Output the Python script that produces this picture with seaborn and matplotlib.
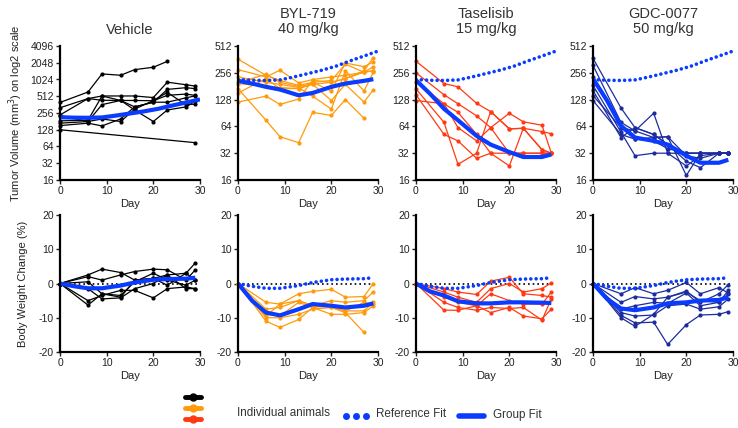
import matplotlib as mpl
mpl.use("Agg")
import matplotlib.pyplot as plt
from matplotlib.ticker import FixedLocator, FuncFormatter, NullLocator
import seaborn as sns
import pandas as pd
import numpy as np

# measurement days
days = [0, 6, 9, 13, 16, 20, 23, 27, 29]
nan = np.nan

# tumor volume (mm3), one list per animal
veh_tumor = [
    [396, 610, 1290, 1220, 1540, 1700, 2170, nan, nan],
    [318, 465, 518, 518, 518, 485, 917, 824, 780],
    [236, 465, 434, 430, 430, 425, 533, 560, 530],
    [185, 190, 518, 430, 330, 400, 680, 730, 700],
    [168, 180, 362, 430, 290, 180, 290, 330, 420],
    [152, 168, 150, 200, 330, 400, 400, 480, 520],
    [230, 180, 200, 180, 300, 430, 600, 360, 370],
    [128, nan, nan, nan, nan, nan, nan, nan, 75],
]
byl_tumor = [
    [364, 240, 210, 185, 200, 160, 330, 300, 340],
    [278, 230, 274, 197, 215, 230, 240, 260, 270],
    [170, 75, 49, 42, 92, 85, 128, 79, nan],
    [120, 140, 113, 130, 211, 200, 220, 270, 380],
    [230, 200, 190, 175, 140, 100, 270, 160, 260],
    [200, 245, 200, 180, 190, 125, 190, 120, 165],
    [152, 220, 170, 170, 200, 210, 320, 260, 300],
    [194, 180, 175, 170, 190, 200, 220, 260, 270],
]
tas_tumor = [
    [345, 194, 178, 116, 94, 60, 61, 56, 53],
    [256, 145, 115, 84, 62, 90, 72, 66, 32],
    [203, 115, 92, 52, 32, 32, 32, 32, 32],
    [169, 71, 24, 32, 94, 60, 61, 35, 32],
    [145, 52, 44, 28, 32, 23, 61, 35, 32],
    [125, 115, 62, 44, 62, 32, 32, 32, 32],
]
gdc_tumor = [
    [372, 103, 62, 52, 40, 32, 32, 32, 32],
    [311, 71, 57, 90, 32, 23, 30, 32, 32],
    [229, 62, 46, 48, 49, 18, 32, 32, 32],
    [185, 55, 30, 32, 32, 32, 32, 32, 32],
    [162, 48, 62, 52, 40, 26, 22, 32, 32],
    [142, 62, 57, 48, 49, 30, 28, 32, 32],
    [125, 52, 46, 44, 36, 32, 32, 32, 32],
]

# body weight change (%)
veh_weight = [
    [0, 2.5, 4.2, 3.2, 1.0, 1.5, 2.5, 3.0, 6.0],
    [0, 2.0, 1.0, 2.5, 3.5, 4.2, 4.0, 1.0, 4.0],
    [0, 0.5, -3.0, -3.5, 0.5, 3.0, 1.0, -0.5, 1.0],
    [0, -1.5, -4.5, -4.2, -1.5, 0.0, 2.5, -1.5, -1.5],
    [0, -5.0, -3.5, -2.0, -2.0, -4.2, -1.5, -1.0, -1.5],
    [0, -6.3, -3.0, -4.0, 1.0, 1.5, -0.5, 3.0, 1.0],
]
byl_weight = [
    [0, -5.5, -6.0, -3.0, -2.3, -1.7, -4.0, -3.8, 0.0],
    [0, -7.5, -7.0, -5.0, -6.5, -5.0, -5.5, -5.0, -2.5],
    [0, -9.0, -9.5, -5.5, -7.0, -6.5, -8.0, -8.0, -5.5],
    [0, -10.0, -10.0, -9.0, -7.5, -7.0, -8.5, -14.3, nan],
    [0, -11.0, -12.8, -10.5, -7.0, -9.0, -9.0, -8.5, -6.5],
    [0, -9.5, -6.0, -5.0, -6.5, -7.0, -8.0, -5.5, -6.0],
]
tas_weight = [
    [0, -1.5, -2.5, -3.2, 0.7, 1.8, -3.0, -3.5, -4.0],
    [0, -2.5, -4.0, -5.5, -1.5, 0.0, -2.5, -1.5, 0.2],
    [0, -4.0, -5.5, -6.5, -3.0, -5.0, -6.0, -6.0, -2.5],
    [0, -5.5, -7.0, -7.8, -7.0, -7.3, -7.0, -10.7, -4.5],
    [0, -7.8, -7.8, -6.5, -8.5, -7.0, -9.5, -10.3, -7.5],
]
gdc_weight = [
    [0, -3.0, -1.2, -3.0, -2.0, 0.3, -3.0, -1.2, -2.8],
    [0, -5.5, -3.8, -4.5, -4.0, -2.2, -5.5, -3.0, -0.3],
    [0, -7.5, -6.5, -5.5, -5.8, -2.8, -6.5, -5.5, -2.0],
    [0, -8.5, -9.5, -9.2, -6.5, -6.0, -7.5, -6.8, -4.5],
    [0, -9.3, -11.5, -11.3, -17.8, -12.0, -9.2, -9.0, -8.2],
    [0, -10.0, -12.5, -9.0, -4.0, -2.5, -5.0, -5.5, -3.0],
]

# fitted curves
ref_days = [0, 3, 6, 9, 12, 15, 18, 21, 24, 27, 30]
ref_tumor = [215, 211, 210, 213, 230, 251, 274, 304, 348, 395, 449]
fit_days = [0, 3, 6, 9, 13, 16, 20, 23, 27, 29]
byl_fit = [208, 194, 178, 166, 143, 152, 178, 194, 208, 217]
tas_fit = [211, 149, 101, 75, 50, 40, 33, 29, 29, 31]
gdc_fit = [220, 125, 65, 48, 44, 40, 30, 25, 25, 27]
ref_weight = [0, -0.8, -1.4, -1.4, -0.6, 0.3, 1.1, 1.3, 1.4, 1.7]
byl_wfit = [0, -5.0, -8.5, -9.3, -7.5, -6.0, -6.5, -7.0, -6.5, -5.8]
tas_wfit = [0, -2.3, -3.5, -5.2, -5.8, -5.8, -5.5, -5.5, -5.6, -5.7]
gdc_wfit = [0, -4.5, -7.3, -7.8, -7.0, -5.8, -5.5, -5.0, -4.8, -4.0]

groups = ["Vehicle", "BYL-719\n40 mg/kg", "Taselisib\n15 mg/kg", "GDC-0077\n50 mg/kg"]
colors = ["black", "#FF9A0A", "#FF3A12", "#1C2C9E"]
fit_blue = "#0A3CFF"


def long_df(animals):
    rows = []
    for i, vals in enumerate(animals):
        for d, v in zip(days, vals):
            rows.append({"animal": i, "day": d, "val": v})
    return pd.DataFrame(rows).dropna()


sns.set_style("ticks")
plt.rcParams["font.family"] = ["Liberation Sans", "DejaVu Sans"]
plt.rcParams["axes.unicode_minus"] = False

fig = plt.figure(figsize=(7.38, 4.28), dpi=100)
W, H = 738.0, 428.0
lefts = [60, 238, 416, 593]
width = 140
dotted = (0, (0.01, 1.45))


def make_ax(left, top, bottom):
    return fig.add_axes([left / W, 1 - bottom / H, width / W, (bottom - top) / H])


def style_ax(ax):
    sns.despine(ax=ax)
    for s in ["left", "bottom"]:
        ax.spines[s].set_linewidth(1.6)
        ax.spines[s].set_color("black")
    ax.tick_params(labelsize=7.5, length=3, width=1, pad=1.5, colors="#222222")
    ax.set_xlim(0, 30)
    ax.set_xticks([0, 10, 20, 30])
    ax.set_xlabel("Day", fontsize=8, labelpad=2, color="#222222")
    ax.set_ylabel("")


tumors = [veh_tumor, byl_tumor, tas_tumor, gdc_tumor]
tfits = [ref_tumor, byl_fit, tas_fit, gdc_fit]
weights = [veh_weight, byl_weight, tas_weight, gdc_weight]
wfits = [ref_weight, byl_wfit, tas_wfit, gdc_wfit]

for k in range(4):
    # tumor volume row
    ax = make_ax(lefts[k], 46, 180)
    sns.lineplot(data=long_df(tumors[k]), x="day", y="val", units="animal",
                 estimator=None, color=colors[k], marker="o", markersize=3,
                 markeredgewidth=0, linewidth=0.9, ax=ax, legend=False, clip_on=False)
    if k == 0:
        ax.plot(ref_days, ref_tumor, color=fit_blue, lw=3, solid_capstyle="butt")
    else:
        ax.plot(ref_days, ref_tumor, color=fit_blue, lw=2.6,
                linestyle=dotted, dash_capstyle="round")
        ax.plot(fit_days, tfits[k], color=fit_blue, lw=3, solid_capstyle="butt")
    ax.set_yscale("log", base=2)
    top = 4096 if k == 0 else 512
    ticks = [2 ** p for p in range(4, int(np.log2(top)) + 1)]
    ax.set_ylim(16, top)
    ax.yaxis.set_major_locator(FixedLocator(ticks))
    ax.yaxis.set_minor_locator(NullLocator())
    ax.yaxis.set_major_formatter(FuncFormatter(lambda v, p: f"{int(round(v))}"))
    style_ax(ax)
    ax.set_title(groups[k], fontsize=10.5, pad=9, color="#333333", linespacing=1.15)
    if k == 0:
        ax.set_ylabel("Tumor Volume (mm$^3$) on log2 scale", fontsize=8, color="#222222")

    # body weight row
    ax2 = make_ax(lefts[k], 215, 352)
    ax2.axhline(0, color="black", lw=1.2, linestyle=(0, (1, 1.8)))
    sns.lineplot(data=long_df(weights[k]), x="day", y="val", units="animal",
                 estimator=None, color=colors[k], marker="o", markersize=3,
                 markeredgewidth=0, linewidth=0.9, ax=ax2, legend=False, clip_on=False)
    if k == 0:
        ax2.plot(fit_days, ref_weight, color=fit_blue, lw=3, solid_capstyle="butt")
    else:
        ax2.plot(fit_days, ref_weight, color=fit_blue, lw=2.6,
                 linestyle=dotted, dash_capstyle="round")
        ax2.plot(fit_days, wfits[k], color=fit_blue, lw=3, solid_capstyle="butt")
    ax2.set_ylim(-20, 20)
    ax2.set_yticks([-20, -10, 0, 10, 20])
    style_ax(ax2)
    if k == 0:
        ax2.set_ylabel("Body Weight Change (%)", fontsize=8, color="#222222", labelpad=8)

# legend drawn in pixel coordinates of the figure
lg = fig.add_axes([0, 0, 1, 1], facecolor="none")
lg.set_xlim(0, W)
lg.set_ylim(H, 0)
lg.axis("off")
for yy, c in zip([397, 408, 419], colors[:3]):
    lg.plot([185, 201], [yy, yy], color=c, lw=3.5, solid_capstyle="round")
    lg.plot([193], [yy], marker="o", color=c, markersize=5)
lg.text(237, 413, "Individual animals", fontsize=8.4, va="center", color="#333333")
lg.plot([346, 356, 366], [416, 416, 416], "o", color=fit_blue, markersize=4)
lg.text(376, 414, "Reference Fit", fontsize=8.4, va="center", color="#333333")
lg.plot([459, 484], [416, 416], color=fit_blue, lw=4, solid_capstyle="round")
lg.text(493, 415, "Group Fit", fontsize=8.4, va="center", color="#333333")

fig.savefig("out.png", dpi=100)
